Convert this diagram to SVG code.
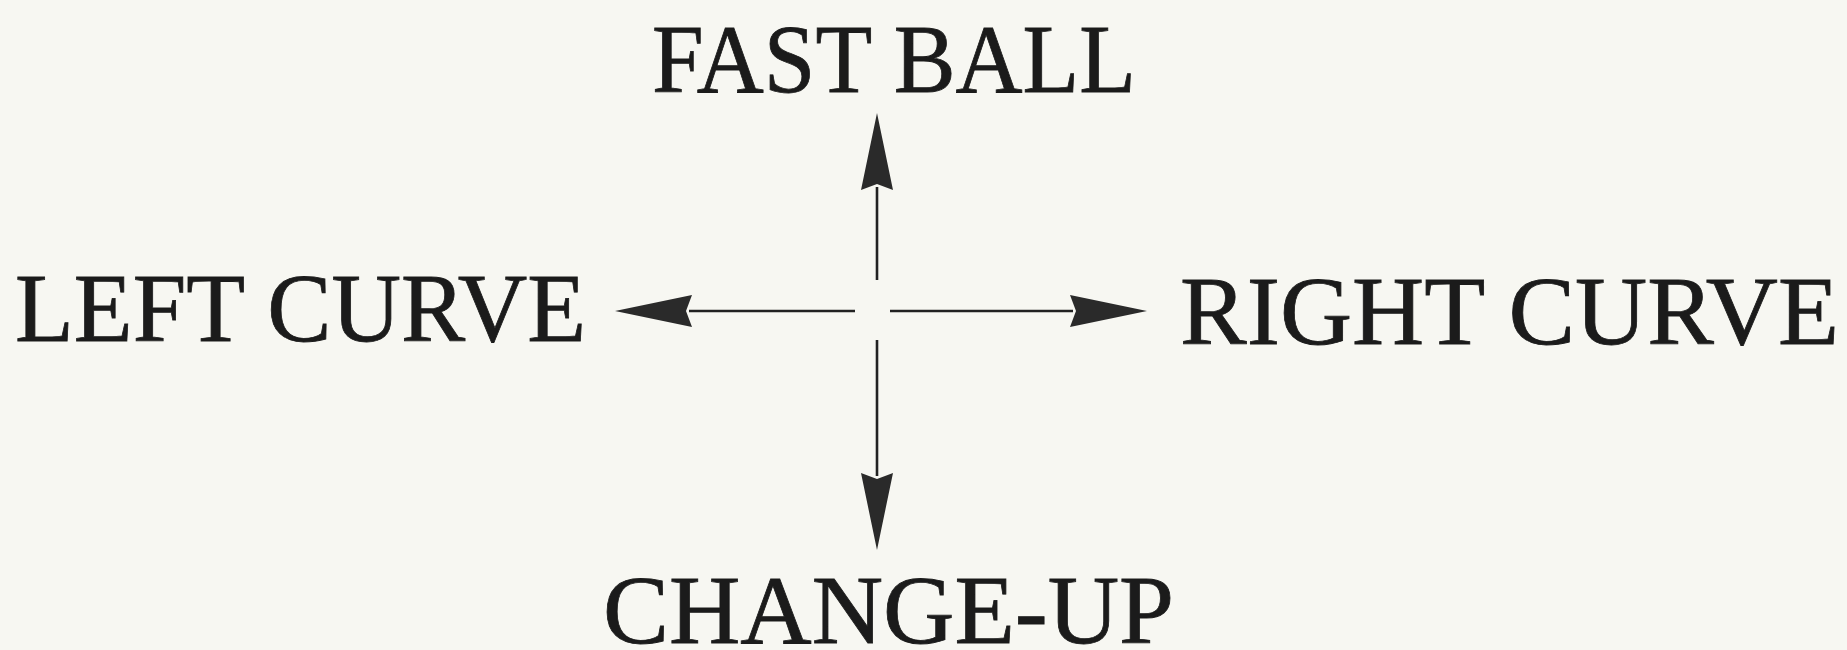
<svg xmlns="http://www.w3.org/2000/svg" width="1847" height="650" viewBox="0 0 1847 650">
  <style>
    .lbl { font-family: "Liberation Serif", "Times New Roman", serif; font-size: 98px; fill: #1b1b1b; stroke: #1b1b1b; stroke-width: 0.8; }
    .conn { stroke: #222; stroke-width: 2.6; fill: none; }
  </style>
  <defs>
    <marker id="head" markerUnits="userSpaceOnUse" orient="auto" refX="0" refY="0" markerWidth="100" markerHeight="40" overflow="visible">
      <path d="M74,0 L-3,-16 L3,0 L-3,16 Z" fill="#2a2a2a"/>
    </marker>
  </defs>
  <rect width="1847" height="650" fill="#f7f7f2"/>
  <g id="connectors">
    <path class="conn" d="M877,280 L877,187" marker-end="url(#head)"/>
    <path class="conn" d="M877,340 L877,476" marker-end="url(#head)"/>
    <path class="conn" d="M855,311 L689,311" marker-end="url(#head)"/>
    <path class="conn" d="M890,311 L1073,311" marker-end="url(#head)"/>
  </g>
  <g id="fast-ball"><text class="lbl" x="652" y="92" textLength="484" lengthAdjust="spacingAndGlyphs">FAST BALL</text></g>
  <g id="left-curve"><text class="lbl" x="15" y="341" textLength="571" lengthAdjust="spacingAndGlyphs">LEFT CURVE</text></g>
  <g id="right-curve"><text class="lbl" x="1180" y="344" textLength="659" lengthAdjust="spacingAndGlyphs">RIGHT CURVE</text></g>
  <g id="change-up"><text class="lbl" x="603" y="643" textLength="571" lengthAdjust="spacingAndGlyphs">CHANGE-UP</text></g>
</svg>
